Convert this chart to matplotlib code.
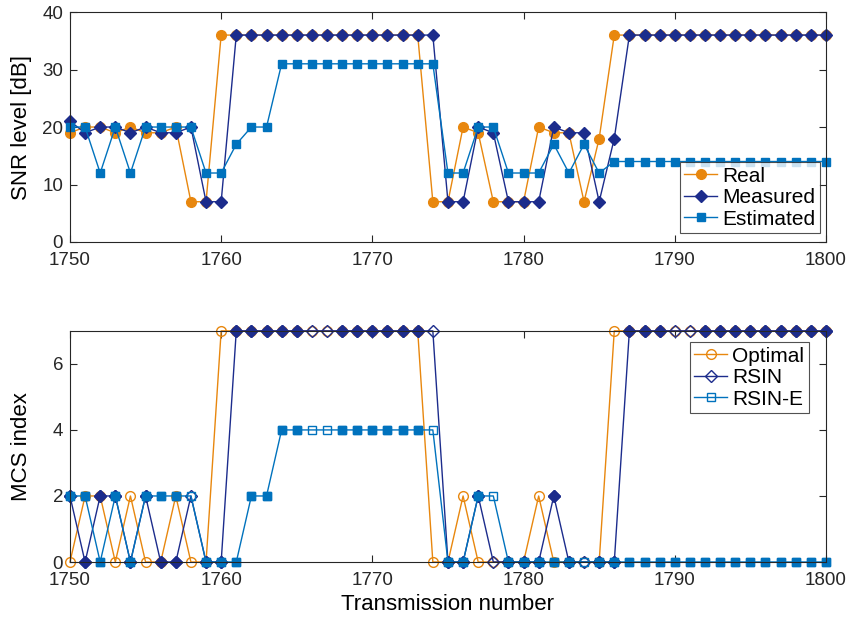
import matplotlib
matplotlib.use("Agg")
import matplotlib.pyplot as plt
import numpy as np

plt.rcParams['font.family'] = ['Liberation Sans', 'DejaVu Sans']

# ---------------- data ----------------
t = list(range(1750, 1801))

snr_real = ([19, 20, 20, 19, 20, 19, 19, 20, 7, 7] + [36] * 14 +
            [7, 7, 20, 19, 7, 7, 7, 20, 19, 19, 7, 18] + [36] * 15)
snr_measured = ([21, 19, 20, 20, 19, 20, 19, 19, 20, 7, 7] + [36] * 14 +
                [7, 7, 20, 19, 7, 7, 7, 20, 19, 19, 7, 18] + [36] * 14)
snr_estimated = ([20, 20, 12, 20, 12, 20, 20, 20, 20, 12, 12, 17, 20, 20] + [31] * 11 +
                 [12, 12, 20, 20, 12, 12, 12, 17, 12, 17, 12, 14] + [14] * 14)

mcs_optimal = ([0, 2, 2, 0, 2, 0, 0, 2, 0, 0] + [7] * 14 +
               [0, 0, 2, 0, 0, 0, 0, 2, 0, 0, 0, 0] + [7] * 15)
mcs_rsin = ([2, 0, 2, 2, 0, 2, 0, 0, 2, 0, 0] + [7] * 14 +
            [0, 0, 2, 0, 0, 0, 0, 2, 0, 0, 0, 0] + [7] * 14)
mcs_rsine = ([2, 2, 0, 2, 0, 2, 2, 2, 2, 0, 0, 0, 2, 2] + [4] * 11 +
             [0, 0, 2, 2, 0, 0, 0, 0, 0, 0, 0, 0] + [0] * 14)

# transmissions drawn with open markers (failed)
rsin_open = [1758, 1766, 1767, 1774, 1778, 1784, 1790, 1791]
rsine_open = [1758, 1766, 1767, 1774, 1778, 1784]

c_orange = '#E8870E'
c_navy = '#1C2C8C'
c_blue = '#0072BD'

fig = plt.figure(figsize=(8.48, 6.23), dpi=100)
ax1 = fig.add_axes([0.0825, 0.6116, 0.8915, 0.369])
ax2 = fig.add_axes([0.0825, 0.0979, 0.8915, 0.371])

lw = 1.0
leg_kw = dict(fontsize=15, frameon=True, fancybox=False, edgecolor='#262626',
              borderpad=0.2, handlelength=1.6, handletextpad=0.25,
              labelspacing=0.12, borderaxespad=0.0)

# ---------------- top ----------------
ax1.plot(t, snr_real, '-o', color=c_orange, mfc=c_orange, mec=c_orange, ms=7, lw=lw,
         label='Real', clip_on=False)
ax1.plot(t, snr_measured, '-D', color=c_navy, mfc=c_navy, mec=c_navy, ms=6, lw=lw,
         label='Measured', clip_on=False)
ax1.plot(t, snr_estimated, '-s', color=c_blue, mfc=c_blue, mec=c_blue, ms=6, lw=lw,
         label='Estimated', clip_on=False)
ax1.set_xlim(1750, 1800)
ax1.set_ylim(0, 40)
ax1.set_yticks([0, 10, 20, 30, 40])
ax1.set_xticks(range(1750, 1801, 10))
ax1.set_ylabel('SNR level [dB]', fontsize=16, labelpad=7)
leg1 = ax1.legend(loc='lower right', bbox_to_anchor=(0.992, 0.04), **leg_kw)
leg1.get_frame().set_linewidth(0.8)

# ---------------- bottom ----------------
def draw(ax, y, marker, color, ms, label, open_idx, fill=True):
    ax.plot(t, y, '-' + marker, color=color, mfc='none', mec=color, ms=ms, lw=lw,
            label=label, clip_on=False)
    if fill:
        xs = [tt for tt in t if tt not in open_idx]
        ys = [v for tt, v in zip(t, y) if tt not in open_idx]
        ax.plot(xs, ys, ls='none', marker=marker, color=color, mfc=color, mec=color,
                ms=ms, clip_on=False)

draw(ax2, mcs_optimal, 'o', c_orange, 7, 'Optimal', [], fill=False)
draw(ax2, mcs_rsin, 'D', c_navy, 6, 'RSIN', rsin_open)
draw(ax2, mcs_rsine, 's', c_blue, 6, 'RSIN-E', rsine_open)
ax2.set_xlim(1750, 1800)
ax2.set_ylim(0, 7)
ax2.set_yticks([0, 2, 4, 6])
ax2.set_xticks(range(1750, 1801, 10))
ax2.set_ylabel('MCS index', fontsize=16, labelpad=15)
ax2.set_xlabel('Transmission number', fontsize=16, labelpad=4)
handles, labels = ax2.get_legend_handles_labels()
leg2 = ax2.legend(handles[:3], labels[:3], loc='upper right',
                  bbox_to_anchor=(0.977, 0.95), **leg_kw)
leg2.get_frame().set_linewidth(0.8)

for ax in (ax1, ax2):
    for s in ax.spines.values():
        s.set_color('#262626')
        s.set_linewidth(0.8)
    ax.tick_params(direction='in', top=True, right=True, labelsize=13.5,
                   length=5, width=0.8, colors='#262626', labelcolor='#262626')
    ax.tick_params(axis='x', pad=7)
    ax.tick_params(axis='y', pad=5)

fig.savefig('out.png', dpi=100)
